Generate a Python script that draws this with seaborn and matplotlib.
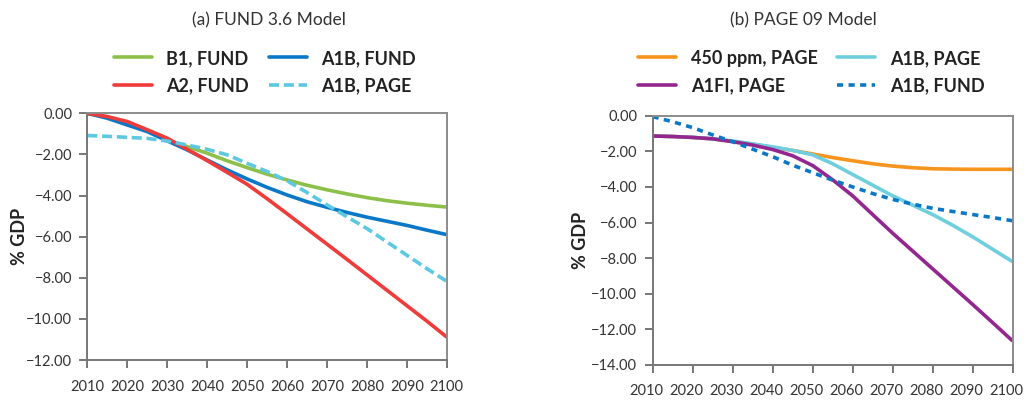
import matplotlib
matplotlib.use("Agg")
import matplotlib.pyplot as plt
import matplotlib.transforms as mtransforms
import seaborn as sns
import pandas as pd
from matplotlib.lines import Line2D

years = list(range(2010, 2101, 5))

# (a) FUND 3.6 Model
b1_fund = [0.0, -0.2, -0.5, -0.85, -1.29, -1.62, -1.94, -2.31, -2.64, -2.96, -3.24, -3.5, -3.72, -3.92, -4.1, -4.25, -4.37, -4.47, -4.56]
a2_fund = [0.0, -0.16, -0.4, -0.8, -1.21, -1.75, -2.3, -2.87, -3.45, -4.15, -4.88, -5.62, -6.36, -7.1, -7.85, -8.6, -9.35, -10.1, -10.88]
a1b_fund_a = [0.0, -0.24, -0.57, -0.89, -1.34, -1.78, -2.27, -2.75, -3.19, -3.6, -3.97, -4.3, -4.57, -4.82, -5.05, -5.25, -5.45, -5.68, -5.9]
a1b_page_a = [-1.08, -1.12, -1.17, -1.22, -1.35, -1.54, -1.75, -2.02, -2.43, -2.83, -3.28, -3.85, -4.45, -5.03, -5.6, -6.25, -6.9, -7.55, -8.17]

# (b) PAGE 09 Model
ppm450_page = [-1.14, -1.17, -1.22, -1.3, -1.44, -1.6, -1.78, -1.95, -2.15, -2.35, -2.53, -2.7, -2.83, -2.92, -2.98, -3.0, -3.01, -3.01, -3.01]
a1b_page_b = [-1.14, -1.17, -1.22, -1.3, -1.42, -1.58, -1.75, -1.95, -2.2, -2.7, -3.3, -3.9, -4.5, -5.02, -5.55, -6.15, -6.8, -7.5, -8.2]
a1fi_page = [-1.14, -1.17, -1.22, -1.3, -1.46, -1.65, -1.9, -2.25, -2.8, -3.6, -4.5, -5.55, -6.6, -7.6, -8.6, -9.6, -10.6, -11.62, -12.65]
a1b_fund_b = [-0.05, -0.34, -0.67, -1.08, -1.46, -1.88, -2.3, -2.78, -3.2, -3.62, -4.0, -4.37, -4.7, -4.97, -5.2, -5.38, -5.55, -5.72, -5.9]

x_ticks = list(range(2010, 2101, 10))
y_ticks_a = [0, -2, -4, -6, -8, -10, -12]
y_ticks_b = [0, -2, -4, -6, -8, -10, -12, -14]

GREEN = "#8dc04a"
RED = "#ef3b39"
BLUE = "#0a78c6"
LBLUE = "#5cc8e2"
ORANGE = "#f7941d"
CYAN = "#6fcfde"
PURPLE = "#93278f"

sns.set_theme(style="white")
plt.rcParams["font.family"] = ["Lato", "DejaVu Sans"]

fig = plt.figure(figsize=(10.27, 4.01), dpi=100)
ax1 = fig.add_axes([0.085, 0.102, 0.350, 0.6155])
ax2 = fig.add_axes([0.6355, 0.0898, 0.3505, 0.6217])

LW = 2.6

def draw(ax, vals, color, dashes=None):
    df = pd.DataFrame({"year": years, "gdp": vals})
    sns.lineplot(data=df, x="year", y="gdp", ax=ax, color=color, lw=LW, legend=False)
    line = ax.get_lines()[-1]
    if dashes is not None:
        line.set_dashes(dashes)
    line.set_solid_capstyle("butt")
    line.set_dash_capstyle("butt")
    line.set_solid_joinstyle("round")
    return line

draw(ax1, b1_fund, GREEN)
draw(ax1, a1b_fund_a, BLUE)
draw(ax1, a2_fund, RED)
draw(ax1, a1b_page_a, LBLUE, dashes=(2.8, 1.3))

draw(ax2, ppm450_page, ORANGE)
draw(ax2, a1b_page_b, CYAN)
draw(ax2, a1fi_page, PURPLE)
draw(ax2, a1b_fund_b, BLUE, dashes=(1.7, 1.5))

def style(ax, yt, ylim, ylab_x):
    ax.set_xlim(2010, 2100)
    ax.set_ylim(ylim, 0)
    ax.set_xticks(x_ticks)
    ax.set_yticks(yt)
    ax.set_yticklabels([f"{v:.2f}".replace("-", "\u2212") for v in yt])
    ax.set_xticklabels([str(v) for v in x_ticks])
    ax.set_xlabel("")
    ax.set_ylabel("% GDP", fontsize=13, fontweight="bold", color="#222222")
    ax.yaxis.set_label_coords(ylab_x, 0.5)
    for s in ax.spines.values():
        s.set_color("#8c8c8c")
        s.set_linewidth(1.4)
    ax.spines["left"].set_color("#777777")
    ax.spines["bottom"].set_color("#777777")
    ax.tick_params(axis="both", which="major", direction="out", length=6, width=1.4,
                   color="#777777", labelsize=10.5, labelcolor="#333333")
    ax.tick_params(axis="x", pad=8, bottom=True)
    ax.tick_params(axis="y", pad=5, left=True)
    ax.grid(False)

style(ax1, y_ticks_a, -12, -0.164)
style(ax2, y_ticks_b, -14, -0.178)

# right panel x tick labels sit slightly left of their ticks in the reference
shift = mtransforms.ScaledTranslation(-6 / 100, 0, fig.dpi_scale_trans)
for lab in ax2.get_xticklabels():
    lab.set_transform(lab.get_transform() + shift)

fig.text(0.262, 0.948, "(a) FUND 3.6 Model", ha="center", va="center", fontsize=12.5, color="#333333")
fig.text(0.782, 0.948, "(b) PAGE 09 Model", ha="center", va="center", fontsize=12.5, color="#333333")

def h(color, dashes=None):
    l = Line2D([0], [0], color=color, lw=LW)
    if dashes is not None:
        l.set_dashes(dashes)
    return l

leg1_handles = [h(GREEN), h(RED), h(BLUE), h(LBLUE, (2.8, 1.3))]
leg1_labels = ["B1, FUND", "A2, FUND", "A1B, FUND", "A1B, PAGE"]
leg2_handles = [h(ORANGE), h(PURPLE), h(CYAN), h(BLUE, (1.7, 1.5))]
leg2_labels = ["450 ppm, PAGE", "A1FI, PAGE", "A1B, PAGE", "A1B, FUND"]

legprops = dict(ncol=2, frameon=False, handlelength=2.1, handletextpad=0.8,
                columnspacing=1.1, labelspacing=0.6,
                prop={"weight": "bold", "size": 13}, loc="center")
l1 = fig.legend(leg1_handles, leg1_labels, bbox_to_anchor=(0.258, 0.82), **legprops)
l2 = fig.legend(leg2_handles, leg2_labels, bbox_to_anchor=(0.79, 0.82), **legprops)
for l in (l1, l2):
    for t in l.get_texts():
        t.set_color("#222222")

fig.savefig("out.png", dpi=100)
